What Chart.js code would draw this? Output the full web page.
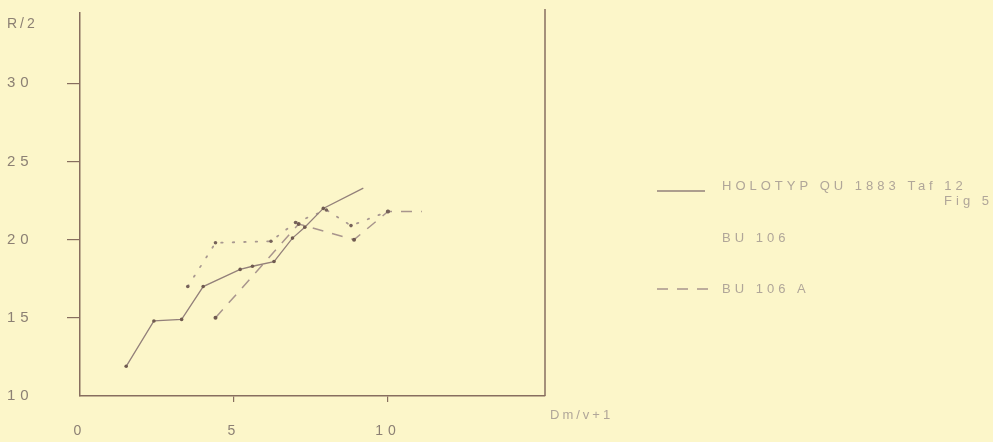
<!DOCTYPE html>
<html>
<head>
<meta charset="utf-8">
<script src="https://cdn.jsdelivr.net/npm/chart.js@4"></script>
<style>
  html, body { margin: 0; padding: 0; background: #fcf6c9; }
  #wrap { width: 993px; height: 442px; }
</style>
</head>
<body>
<div id="wrap"><canvas id="chart" width="993" height="442"></canvas></div>
<script>
// tick labels
const xTicks = [0, 5, 10];
const yTicks = [10, 15, 20, 25, 30];

// HOLOTYP QU 1883 Taf 12 Fig 5
const holotypX = [1.5, 2.4, 3.3, 4.0, 5.2, 5.6, 6.3, 6.9, 7.3, 7.9, 9.2];
const holotypY = [11.9, 14.8, 14.9, 17.0, 18.1, 18.3, 18.6, 20.1, 20.8, 22.0, 23.3];

// BU 106 (punktiert)
const bu106X = [3.5, 4.4, 6.2, 7.0, 8.0, 8.8, 10.0];
const bu106Y = [17.0, 19.8, 19.9, 21.1, 21.9, 20.9, 21.8];

// BU 106 A (gestrichelt)
const bu106aX = [4.4, 7.1, 8.9, 10.0, 11.1];
const bu106aY = [15.0, 21.0, 20.0, 21.8, 21.8];

const axisColor = '#876e5f';
const tickColor = '#8c8074';
const legendColor = '#b0a699';
const fontFamily = '"Liberation Sans", "DejaVu Sans", sans-serif';

const toPoints = (xs, ys) => xs.map((x, i) => ({ x: x, y: ys[i] }));

const frame = {
    id: 'frame',
    beforeLayout(chart) { chart.ctx.letterSpacing = '5px'; },
    beforeDraw(chart) { chart.ctx.letterSpacing = '5px'; },
    afterDraw(chart) {
        const ctx = chart.ctx;
        const a = chart.chartArea;
        ctx.save();
        // rechte Begrenzung
        ctx.strokeStyle = axisColor;
        ctx.lineWidth = 1.5;
        ctx.beginPath();
        ctx.moveTo(a.right, a.top - 4);
        ctx.lineTo(a.right, a.bottom);
        ctx.stroke();

        ctx.fillStyle = tickColor;
        ctx.textBaseline = 'middle';
        ctx.font = '14px ' + fontFamily;
        ctx.letterSpacing = '3px';
        ctx.fillText('R/2', 7, 24);

        ctx.fillStyle = legendColor;
        ctx.font = '13px ' + fontFamily;
        ctx.fillText('Dm/v+1', 550, 415);

        // Legende
        const ds = chart.data.datasets;
        ctx.lineWidth = 1.4;
        ctx.strokeStyle = ds[0].borderColor;
        ctx.beginPath();
        ctx.moveTo(657, 191); ctx.lineTo(705, 191);
        ctx.stroke();
        ctx.strokeStyle = ds[2].borderColor;
        ctx.setLineDash(ds[2].borderDash);
        ctx.beginPath();
        ctx.moveTo(657, 289); ctx.lineTo(712, 289);
        ctx.stroke();
        ctx.setLineDash([]);

        ctx.font = '13px ' + fontFamily;
        ctx.letterSpacing = '4px';
        ctx.fillText(ds[0].label, 722, 186);
        ctx.fillText(ds[1].label, 722, 238);
        ctx.fillText(ds[2].label, 722, 289);
        ctx.textAlign = 'right';
        ctx.fillText('Fig 5', 993, 201);
        ctx.restore();
    }
};

const chart = new Chart(document.getElementById('chart'), {
    type: 'scatter',
    data: {
        datasets: [{
            label: 'HOLOTYP QU 1883 Taf 12',
            data: toPoints(holotypX, holotypY),
            showLine: true,
            borderColor: '#93807a',
            borderWidth: 1.3,
            pointRadius: holotypX.map((v, i) => i === holotypX.length - 1 ? 0 : 1.8),
            pointBackgroundColor: '#6f5a50',
            pointBorderWidth: 0
        }, {
            label: 'BU 106',
            data: toPoints(bu106X, bu106Y),
            showLine: true,
            borderColor: '#a89890',
            borderWidth: 1.8,
            borderDash: [1.5, 10],
            borderCapStyle: 'round',
            pointRadius: 1.8,
            pointBackgroundColor: '#76625a',
            pointBorderWidth: 0
        }, {
            label: 'BU 106 A',
            data: toPoints(bu106aX, bu106aY),
            showLine: true,
            borderColor: '#a8958d',
            borderWidth: 1.5,
            borderDash: [11, 9],
            pointRadius: bu106aX.map((v, i) => i === bu106aX.length - 1 ? 0 : 2),
            pointBackgroundColor: '#6f5a50',
            pointBorderWidth: 0
        }]
    },
    options: {
        responsive: false,
        animation: false,
        devicePixelRatio: 1,
        layout: { padding: { left: 7, right: 448, top: 13, bottom: 0 } },
        plugins: {
            legend: { display: false },
            tooltip: { enabled: false }
        },
        scales: {
            x: {
                type: 'linear',
                min: 0,
                max: 15.1,
                afterBuildTicks: s => { s.ticks = xTicks.map(v => ({ value: v })); },
                afterFit: s => { s.height = 46; },
                grid: {
                    drawOnChartArea: false,
                    tickLength: 6,
                    lineWidth: 1.2,
                    color: c => c.tick && c.tick.value === 0 ? 'rgba(0,0,0,0)' : axisColor
                },
                border: { color: axisColor, width: 1.5 },
                ticks: {
                    padding: 21,
                    maxRotation: 0,
                    color: tickColor,
                    font: { family: fontFamily, size: 14 }
                }
            },
            y: {
                min: 10,
                max: 34.5,
                afterBuildTicks: s => { s.ticks = yTicks.map(v => ({ value: v })); },
                afterFit: s => { s.width = 73; },
                grid: {
                    drawOnChartArea: false,
                    tickLength: 13,
                    lineWidth: 1.2,
                    color: c => c.tick && c.tick.value === 10 ? 'rgba(0,0,0,0)' : axisColor
                },
                border: { color: axisColor, width: 1.5 },
                ticks: {
                    crossAlign: 'far',
                    color: tickColor,
                    font: { family: fontFamily, size: 15 }
                }
            }
        }
    },
    plugins: [frame]
});
</script>
</body>
</html>
